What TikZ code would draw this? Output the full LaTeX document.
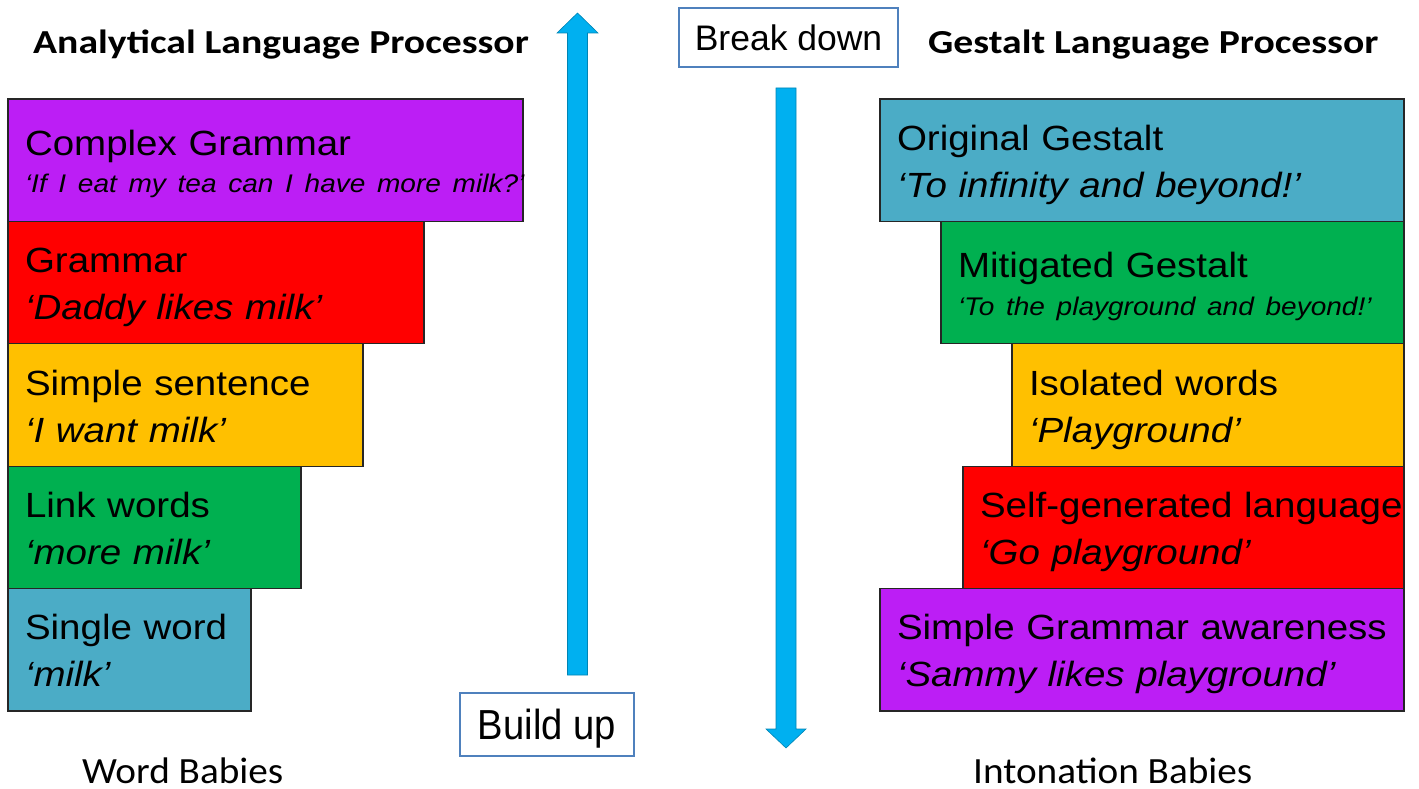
\documentclass[tikz,border=0pt]{standalone}
\usepackage{fontspec}
\setmainfont{Liberation Sans}
\newfontfamily\tierfont[FakeStretch=1.10]{Liberation Sans}
\newfontfamily\buildfont[FakeStretch=0.91]{Liberation Sans}
\newfontfamily\headfont[FakeStretch=1.18]{Carlito}
\newfontfamily\capfont[FakeStretch=1.06]{Carlito}
\usetikzlibrary{positioning}

\definecolor{tierpurple}{RGB}{188,30,245}
\definecolor{tierred}{RGB}{255,0,0}
\definecolor{tierorange}{RGB}{255,192,0}
\definecolor{tiergreen}{RGB}{0,176,80}
\definecolor{tierteal}{RGB}{75,172,198}
\definecolor{arrowblue}{RGB}{0,176,240}
\definecolor{frameblue}{RGB}{79,129,189}

% struts keep both lines of a tier at fixed baselines
\newcommand{\topline}{\rule{0pt}{35pt}}
\newcommand{\botline}{\rule[-8pt]{0pt}{8pt}}
\newcommand{\quotesmall}[1]{{\fontsize{25.5}{31}\selectfont\itshape #1}\botline}
\newcommand{\quotebig}[1]{{\itshape #1}\botline}

\begin{document}
\begin{tikzpicture}[x=1pt,y=-1pt,
  tier/.style={draw=black!85, line width=1.2pt, rectangle, outer sep=0pt,
    inner xsep=17pt, inner ysep=0pt, minimum height=122.4pt, align=left,
    font=\tierfont\fontsize{35}{47}\selectfont},
  heading/.style={font=\headfont\bfseries\fontsize{33.6}{40}\selectfont, anchor=base west, inner sep=0pt},
  caption/.style={font=\capfont\fontsize{37}{44}\selectfont, anchor=base west, inner sep=0pt},
  tag/.style={draw=frameblue, line width=1.2pt, inner sep=0pt},
  blockarrow/.style={fill=arrowblue, draw=arrowblue!75!black, line width=0.6pt}]

\useasboundingbox (0,0) rectangle (1419,789);

% Draw headings
\node[heading] (analytic) at (33,54) {Analytical Language Processor};
\node[heading] (gestalt) at (928,54) {Gestalt Language Processor};

% Draw analytical stack (bottom up)
\node[tier, fill=tierpurple, text width=481pt, anchor=north west] (complex) at (8,99)
  {\topline Complex Grammar\\[-10pt]\quotesmall{\mbox{‘If I eat my tea can I have more milk?’}}};
\node[tier, fill=tierred, text width=382pt, anchor=north west] (grammar) at (complex.south west)
  {\topline Grammar\\\quotebig{‘Daddy likes milk’}};
\node[tier, fill=tierorange, text width=321pt, anchor=north west] (sentence) at (grammar.south west)
  {\topline Simple sentence\\\quotebig{‘I want milk’}};
\node[tier, fill=tiergreen, text width=259pt, anchor=north west] (link) at (sentence.south west)
  {\topline Link words\\\quotebig{‘more milk’}};
\node[tier, fill=tierteal, text width=209pt, anchor=north west] (single) at (link.south west)
  {\topline Single word\\\quotebig{‘milk’}};

% Draw gestalt stack (top down)
\node[tier, fill=tierteal, text width=490pt, anchor=north east] (original) at (1404,99)
  {\topline Original Gestalt\\\quotebig{‘To infinity and beyond!’}};
\node[tier, fill=tiergreen, text width=429pt, anchor=north east] (mitigated) at (original.south east)
  {\topline Mitigated Gestalt\\[-9pt]\quotesmall{\mbox{‘To the playground and beyond!’}}};
\node[tier, fill=tierorange, text width=358pt, anchor=north east] (isolated) at (mitigated.south east)
  {\topline Isolated words\\\quotebig{‘Playground’}};
\node[tier, fill=tierred, text width=407pt, anchor=north east] (selfgen) at (isolated.south east)
  {\topline\mbox{Self-generated language}\\\quotebig{‘Go playground’}};
\node[tier, fill=tierpurple, text width=490pt, anchor=north east] (awareness) at (selfgen.south east)
  {\topline\mbox{Simple Grammar awareness}\\\quotebig{\mbox{‘Sammy likes playground’}}};

% Draw block arrows
\draw[blockarrow] (567.5,675) -- (567.5,33) -- (557,33) -- (577.5,13)
  -- (598,33) -- (587.5,33) -- (587.5,675) -- cycle;
\draw[blockarrow] (776,88) -- (776,729) -- (766,729) -- (786,748)
  -- (806,729) -- (796,729) -- (796,88) -- cycle;

% Add arrow labels
\node[tag, minimum width=219pt, minimum height=59pt, font=\fontsize{35.5}{42}\selectfont]
  (breakdown) at (788.5,37.5) {Break down};
\node[tag, minimum width=174pt, minimum height=63pt, text height=30.6pt, text depth=0pt,
  font=\buildfont\fontsize{42}{50}\selectfont] (buildup) at (547,724.5) {Build up};

% Add captions
\node[caption] (wordbabies) at (82,783) {Word Babies};
\node[caption] (intonation) at (973,783) {Intonation Babies};

\end{tikzpicture}
\end{document}
